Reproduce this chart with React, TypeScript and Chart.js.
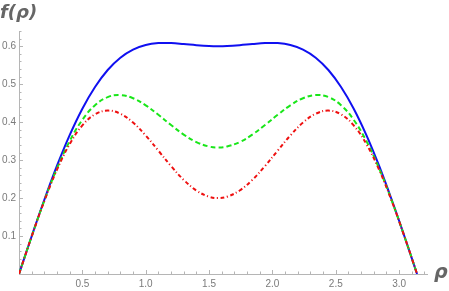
import React, { useEffect, useRef } from "react";
import { Chart, registerables } from "chart.js";

Chart.register(...registerables);

// rho values (x axis)
const rho = [
  0, 0.1, 0.2, 0.3, 0.4, 0.5, 0.6, 0.7, 0.8, 0.9, 1.0, 1.1, 1.2, 1.3, 1.4, 1.5,
  1.5708,
  1.6416, 1.7416, 1.8416, 1.9416, 2.0416, 2.1416, 2.2416, 2.3416, 2.4416, 2.5416,
  2.6416, 2.7416, 2.8416, 2.9416, 3.0416, 3.1416,
];

// blue solid curve
const fBlue = [
  0, 0.0994, 0.1955, 0.2852, 0.3658, 0.4354, 0.4926, 0.5373, 0.5697, 0.5911, 0.6031,
  0.6081, 0.6082, 0.6057, 0.6027, 0.6005,
  0.6,
  0.6005, 0.6027, 0.6057, 0.6082, 0.6081, 0.6031, 0.5911, 0.5697, 0.5373, 0.4926,
  0.4354, 0.3658, 0.2852, 0.1955, 0.0994, 0,
];

// green dashed curve
const fGreen = [
  0, 0.0992, 0.1934, 0.2783, 0.3501, 0.406, 0.4446, 0.466, 0.4713, 0.4629, 0.4443,
  0.4193, 0.3923, 0.3672, 0.3475, 0.3358,
  0.3333,
  0.3358, 0.3475, 0.3672, 0.3923, 0.4193, 0.4443, 0.4629, 0.4713, 0.466, 0.4446,
  0.406, 0.3501, 0.2783, 0.1934, 0.0992, 0,
];

// red dot-dashed curve
const fRed = [
  0, 0.099, 0.1924, 0.2749, 0.3422, 0.3913, 0.4206, 0.4303, 0.422, 0.3988, 0.3648,
  0.3249, 0.2843, 0.2479, 0.2199, 0.2035,
  0.2,
  0.2035, 0.2199, 0.2479, 0.2843, 0.3249, 0.3648, 0.3988, 0.422, 0.4303, 0.4206,
  0.3913, 0.3422, 0.2749, 0.1924, 0.099, 0,
];

const xMin = 0;
const xMax = 3.22;
const yMin = 0;
const yMax = 0.64;
const xTitle = "ρ";
const yTitle = "f(ρ)";

const AXIS_COLOR = "#b5b5b5";
const LABEL_COLOR = "#7a7a7a";
const TITLE_COLOR = "#666666";

function pts(ys: number[]) {
  return rho.map((x, i) => ({ x, y: ys[i] }));
}

const decorPlugin = {
  id: "decor",
  beforeDatasetsDraw(chart: any) {
    const { ctx } = chart;
    const xs = chart.scales.x;
    const ys = chart.scales.y;
    const y0 = ys.getPixelForValue(0);
    const x0 = xs.getPixelForValue(0);
    ctx.save();
    ctx.strokeStyle = AXIS_COLOR;
    ctx.lineWidth = 1;
    ctx.beginPath();
    for (let i = 1; i * 0.1 <= xMax + 1e-9; i++) {
      const px = Math.round(xs.getPixelForValue(i * 0.1)) + 0.5;
      const len = i % 5 === 0 ? 4 : 2.5;
      ctx.moveTo(px, y0);
      ctx.lineTo(px, y0 - len);
    }
    for (let i = 1; i * 0.02 <= yMax + 1e-9; i++) {
      const py = Math.round(ys.getPixelForValue(i * 0.02)) + 0.5;
      const len = i % 5 === 0 ? 4 : 2.5;
      ctx.moveTo(x0, py);
      ctx.lineTo(x0 + len, py);
    }
    ctx.stroke();
    ctx.restore();
  },
  afterDraw(chart: any) {
    const { ctx } = chart;
    ctx.save();
    ctx.fillStyle = TITLE_COLOR;
    ctx.font = "bold oblique 18px 'DejaVu Sans'";
    ctx.textBaseline = "alphabetic";
    ctx.textAlign = "left";
    ctx.fillText(yTitle, 0, 18);
    ctx.font = "bold oblique 19px 'DejaVu Sans'";
    ctx.fillText(xTitle, 434, 278);
    ctx.restore();
  },
};

export default function App() {
  const ref = useRef<HTMLCanvasElement | null>(null);

  useEffect(() => {
    if (!ref.current) return;
    const chart = new Chart(ref.current, {
      type: "line",
      data: {
        datasets: [
          {
            label: "blue",
            data: pts(fBlue),
            borderColor: "#1010f0",
            borderWidth: 2,
            pointRadius: 0,
            tension: 0.4,
            fill: false,
            order: 3,
          },
          {
            label: "green",
            data: pts(fGreen),
            borderColor: "#19e619",
            borderWidth: 2,
            borderDash: [5, 3],
            pointRadius: 0,
            tension: 0.4,
            fill: false,
            order: 2,
          },
          {
            label: "red",
            data: pts(fRed),
            borderColor: "#ee1010",
            borderWidth: 2,
            borderDash: [4, 2.5, 1, 2.5],
            pointRadius: 0,
            tension: 0.4,
            fill: false,
            order: 1,
          },
        ],
      },
      options: {
        responsive: false,
        animation: false,
        layout: { padding: { top: 31, right: 22, left: 0, bottom: 0 } },
        plugins: {
          legend: { display: false },
          tooltip: { enabled: false },
        },
        scales: {
          x: {
            type: "linear",
            min: xMin,
            max: xMax,
            grid: { display: false, drawTicks: false },
            border: { display: true, color: AXIS_COLOR, width: 1 },
            afterFit: (s: any) => {
              s.height = 17;
            },
            ticks: {
              stepSize: 0.5,
              includeBounds: false,
              autoSkip: false,
              maxRotation: 0,
              padding: 4,
              color: LABEL_COLOR,
              font: { family: "'Liberation Sans'", size: 10 },
              callback: (v: any) => (Number(v) === 0 ? "" : Number(v).toFixed(1)),
            },
          },
          y: {
            type: "linear",
            min: yMin,
            max: yMax,
            grid: { display: false, drawTicks: false },
            border: { display: true, color: AXIS_COLOR, width: 1 },
            afterFit: (s: any) => {
              s.width = 19;
            },
            ticks: {
              stepSize: 0.1,
              includeBounds: false,
              autoSkip: false,
              padding: 3,
              color: LABEL_COLOR,
              font: { family: "'Liberation Sans'", size: 10 },
              callback: (v: any) => (Number(v) === 0 ? "" : Number(v).toFixed(1)),
            },
          },
        },
      },
      plugins: [decorPlugin],
    });
    return () => chart.destroy();
  }, []);

  return (
    <div style={{ position: "absolute", left: 0, top: 0, width: 449, height: 291 }}>
      <canvas ref={ref} width={449} height={291} />
    </div>
  );
}
